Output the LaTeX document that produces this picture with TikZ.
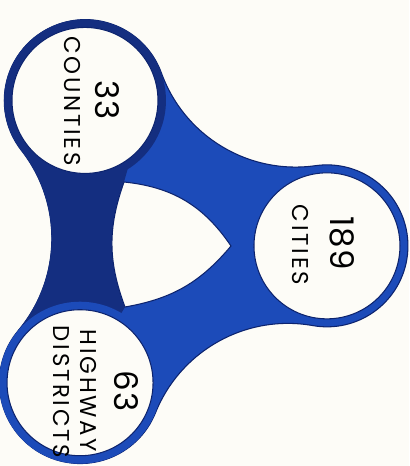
\documentclass[tikz,border=0pt]{standalone}
\usepackage{fontspec}
\usepackage{tikz}
\usetikzlibrary{calc}

\newfontfamily\numfont[LetterSpace=4]{Poppins}
\newfontfamily\wordfont[LetterSpace=12]{Poppins}

\definecolor{paper}{RGB}{253,252,247}
\definecolor{royal}{RGB}{28,75,185}
\definecolor{navy}{RGB}{20,46,128}
\definecolor{inkedge}{RGB}{12,35,110}

\begin{document}
\begin{tikzpicture}[x=0.02cm, y=0.02cm,
		disc/.style={fill=paper, draw=inkedge, line width=0.6pt},
		num/.style={rotate=-90, inner sep=0pt, font=\numfont\fontsize{18.5}{20}\selectfont},
		word/.style={rotate=-90, inner sep=0pt, font=\wordfont\fontsize{13}{14}\selectfont}]
		\useasboundingbox[fill=paper] (-164, -223) rectangle (245, 243);
		\coordinate (c1) at (119:163);
		\coordinate (c2) at (-1:163);
		\coordinate (c3) at (239:163);
		\coordinate (h1) at (-40, 61);
		\coordinate (h2) at (67, -3);
		\coordinate (h3) at (-39, -64);
		\fill[royal, draw=inkedge, line width=0.6pt] ($(c2)+(-100.05:81)$)
			foreach \a in {-1, 119, 239} {
				arc[start angle=\a-99.05, end angle=\a+99.05, radius=81]
				arc[start angle=\a+279.05, end angle=\a+200.95, radius=142.8]
			} -- cycle;
		\fill[navy] (c1) circle[radius=81];
		\fill[navy] (c1) -- ($(c1)+(218.05:81)$) arc[start angle=38.05, end angle=-40.05, radius=142.8]
			-- (c3) -- (h3) to[bend left=20] (h1) -- ++(12, 42) -- cycle;
		\fill[royal] (c3) circle[radius=81];
		\draw[disc] (c1) circle[radius=73];
		\draw[disc] (c2) circle[radius=73];
		\draw[disc] (c3) circle[radius=73];
		\draw[disc] (h1) to[bend left=25] (h2) to[bend left=20] (h3) to[bend left=20] (h1) -- cycle;
		\node[num] (counties num) at (-57, 143) {33};
		\node[word] (counties word) at (-92, 142) {COUNTIES};
		\node[num] (cities num) at (178, 0) {189};
		\node[word] (cities word) at (136, -2) {CITIES};
		\node[num] (districts num) at (-38, -148) {63};
		\node[word] (highway word) at (-76, -148) {HIGHWAY};
		\node[word] (districts word) at (-103, -149) {DISTRICTS};
	\end{tikzpicture}
\end{document}
